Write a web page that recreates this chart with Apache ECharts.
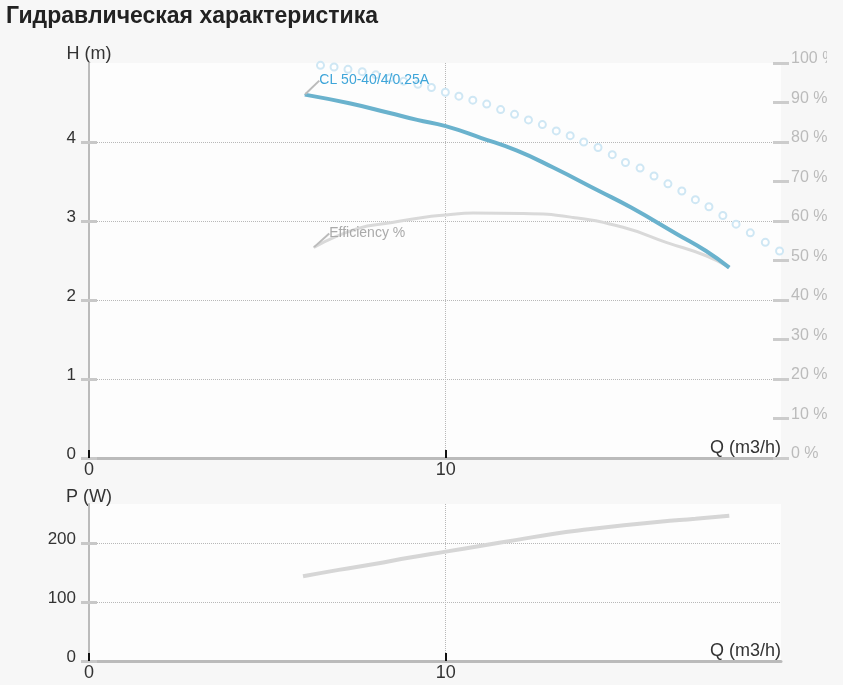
<!DOCTYPE html>
<html><head><meta charset="utf-8">
<script src="https://cdn.jsdelivr.net/npm/echarts@6/dist/echarts.min.js"></script>
<style>
html,body{margin:0;padding:0;background:#f7f7f7;}
#c{width:827px;height:685px;}
</style></head><body><div id="c"></div>
<script>
const TITLE = 'Гидравлическая характеристика';
const pumpName = 'CL 50-40/4/0.25A';
const effName = 'Efficiency %';
// H (m) curve
const qH = [6.05, 7.3, 8.4, 9.2, 10.0, 11.0, 12.0, 13.0, 14.3, 15.2, 16.5, 17.3, 17.95];
const hH = [4.60, 4.49, 4.37, 4.28, 4.20, 4.05, 3.89, 3.68, 3.38, 3.17, 2.83, 2.62, 2.41];
// Efficiency (%)
const qE = [6.3, 7.5, 8.5, 9.36, 10.0, 10.77, 12.17, 13.57, 14.97, 16.18, 17.3, 17.95];
const eE = [53.3, 58.0, 59.6, 60.9, 61.5, 62.0, 61.9, 60.9, 58.4, 54.6, 51.2, 48.3];
// dotted (circles) curve
const qC = [6.49,6.87,7.26,7.66,8.04,8.43,8.82,9.22,9.60,9.99,10.37,10.76,11.15,11.54,11.93,12.32,12.71,13.10,13.49,13.87,14.27,14.67,15.04,15.45,15.84,16.23,16.62,17.00,17.38,17.77,18.14,18.54,18.96,19.36];
const hC = [4.97,4.95,4.92,4.89,4.85,4.81,4.77,4.73,4.69,4.63,4.58,4.53,4.48,4.41,4.35,4.28,4.22,4.14,4.08,4.00,3.93,3.84,3.74,3.67,3.57,3.47,3.38,3.27,3.18,3.07,2.96,2.85,2.73,2.62];
// Power P (W)
const qP = [6.0, 7.0, 8.0, 9.0, 10.0, 11.0, 12.0, 13.0, 14.0, 15.0, 16.0, 17.0, 17.95];
const pP = [144, 155, 165, 176, 186, 196, 206, 216, 224, 231, 237, 242, 247];
// ticks
const qTicks = [0, 10];
const hTicks = [0, 1, 2, 3, 4];
const pTicks = [0, 100, 200];

const FONT = "'Liberation Sans', Arial, sans-serif";
const zip = (a, b) => a.map((v, i) => [v, b[i]]);

function labeled(arr, text, color) {
  const d = arr.map(v => ({ value: v }));
  d[0] = {
    value: arr[0],
    symbolSize: 1,
    label: { show: true, formatter: text, position: 'right', distance: 0, color: color, fontSize: 14, fontFamily: FONT },
    labelLine: { show: true, lineStyle: { color: '#bbbbbb', width: 2 } }
  };
  return d;
}

const xCommon = (gi) => ({
  type: 'value', gridIndex: gi, min: 0, max: 19.4, interval: 10,
  name: 'Q (m3/h)', nameLocation: 'end', nameGap: 0, nameMoveOverlap: false,
  nameTextStyle: { align: 'right', verticalAlign: 'bottom', fontSize: 18, color: '#333', fontFamily: FONT, padding: [0, 0, 1, 0] },
  axisLine: { lineStyle: { color: '#bbbbbb', width: 3 } },
  axisTick: { inside: true, length: 8, customValues: qTicks, lineStyle: { color: '#111', width: 2 } },
  axisLabel: { customValues: qTicks, color: '#333', fontSize: 18, margin: 3, fontFamily: FONT },
  splitLine: { show: true, showMinLine: false, lineStyle: { color: '#b8b8b8', type: 'dotted', width: 1 } }
});

const yLeft = (gi, max, interval, ticks, name, nameGap) => ({
  type: 'value', gridIndex: gi, position: 'left', min: 0, max: max, interval: interval,
  name: name, nameLocation: 'end', nameGap: nameGap, nameMoveOverlap: false,
  nameTextStyle: { fontSize: 18, color: '#333', fontFamily: FONT, align: 'center' },
  axisLine: { show: true, lineStyle: { color: '#bbbbbb', width: 2 } },
  axisTick: { show: true, length: 8, customValues: ticks, lineStyle: { color: '#c8c8c8', width: 3 } },
  axisLabel: { customValues: ticks, color: '#333', fontSize: 17, margin: 13, fontFamily: FONT, verticalAlign: 'bottom', lineHeight: 8 },
  splitLine: { show: true, showMinLine: false, lineStyle: { color: '#b8b8b8', type: 'dotted', width: 1 } }
});

const yInner = (gi, max, interval, ticks) => ({
  type: 'value', gridIndex: gi, position: 'left', min: 0, max: max, interval: interval,
  axisLine: { show: false },
  axisTick: { show: true, inside: true, length: 8, customValues: ticks, lineStyle: { color: '#c8c8c8', width: 3 } },
  axisLabel: { show: false },
  splitLine: { show: false }
});

const option = {
  animation: false,
  backgroundColor: '#f7f7f7',
  textStyle: { fontFamily: FONT },
  title: { text: TITLE, left: 1, top: 0, textStyle: { fontSize: 23, fontWeight: 'bold', color: '#222', fontFamily: FONT } },
  grid: [
    { left: 89, top: 63, width: 692, height: 395, show: true, backgroundColor: '#fdfdfd', borderWidth: 0, containLabel: false, outerBoundsMode: 'none' },
    { left: 89, top: 504, width: 692, height: 157, show: true, backgroundColor: '#fdfdfd', borderWidth: 0, containLabel: false, outerBoundsMode: 'none' }
  ],
  xAxis: [xCommon(0), xCommon(1)],
  yAxis: [
    yLeft(0, 5, 1, hTicks, 'H (m)', 0),
    {
      type: 'value', gridIndex: 0, position: 'right', offset: -8, min: 0, max: 100, interval: 10,
      axisLine: { show: false },
      axisTick: { show: true, length: 16, lineStyle: { color: '#cccccc', width: 3 } },
      axisLabel: { formatter: '{value} %', color: '#bbbbbb', fontSize: 16, margin: 18, fontFamily: FONT, verticalAlign: 'bottom', lineHeight: 8 },
      splitLine: { show: false }
    },
    yInner(0, 5, 1, hTicks),
    yLeft(1, 267, 100, pTicks, 'P (W)', -2),
    yInner(1, 267, 100, pTicks)
  ],
  series: [
    {
      type: 'line', xAxisIndex: 0, yAxisIndex: 0, data: zip(qC, hC), clip: false, silent: true,
      symbol: 'emptyCircle', symbolSize: 7, showAllSymbol: true,
      itemStyle: { color: '#cfe7f4', borderColor: '#cfe7f4', borderWidth: 2 },
      lineStyle: { width: 0, opacity: 0 }, z: 1
    },
    {
      type: 'line', xAxisIndex: 0, yAxisIndex: 1, data: labeled(zip(qE, eE), effName, '#aaaaaa'),
      smooth: true, symbol: 'circle', symbolSize: 0, showSymbol: true, showAllSymbol: true, silent: true,
      itemStyle: { color: '#d9d9d9' },
      lineStyle: { color: '#d9d9d9', width: 3 },
      labelLayout: { dx: 15, dy: -14 }, z: 2
    },
    {
      type: 'line', xAxisIndex: 0, yAxisIndex: 0, data: labeled(zip(qH, hH), pumpName, '#3ea5d9'),
      smooth: true, symbol: 'circle', symbolSize: 0, showSymbol: true, showAllSymbol: true, silent: true,
      itemStyle: { color: '#6ab2cd' },
      lineStyle: { color: '#6ab2cd', width: 4 },
      labelLayout: { dx: 14, dy: -14 }, z: 3
    },
    {
      type: 'line', xAxisIndex: 1, yAxisIndex: 3, data: zip(qP, pP),
      smooth: true, showSymbol: false, silent: true,
      lineStyle: { color: '#d6d6d6', width: 4 }
    }
  ]
};
const chart = echarts.init(document.getElementById('c'));
chart.setOption(option);
</script></body></html>
